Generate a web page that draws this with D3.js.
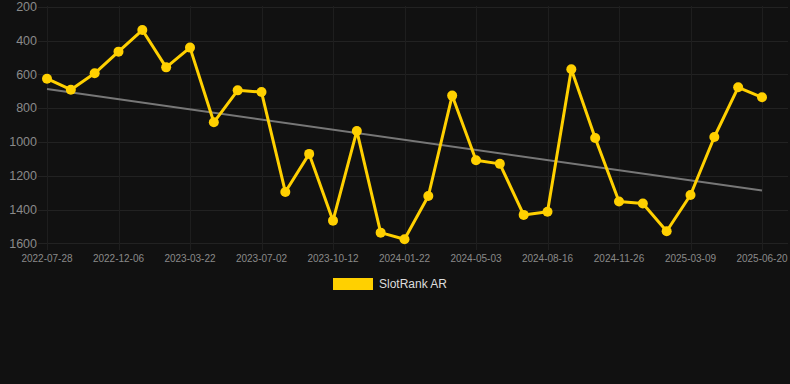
<!DOCTYPE html>
<html><head><meta charset="utf-8">
<script src="https://cdn.jsdelivr.net/npm/d3@7"></script>
<style>
html,body{margin:0;padding:0;background:#111111;}
svg{display:block;}
</style></head>
<body>
<svg id="c" width="790" height="384"></svg>
<script>
const categories = [
"2022-07-28","2022-08-31","2022-10-04","2022-12-06","2023-01-09","2023-02-14","2023-03-22","2023-04-24","2023-05-28","2023-07-02",
"2023-08-04","2023-09-07","2023-10-12","2023-11-14","2023-12-18","2024-01-22","2024-02-24","2024-03-29","2024-05-03","2024-06-06",
"2024-07-11","2024-08-16","2024-09-18","2024-10-22","2024-11-26","2024-12-29","2025-02-02","2025-03-09","2025-04-11","2025-05-15",
"2025-06-20"];
const rankValues = [626,691,594,466,338,559,442,884,695,705,
1296,1071,1466,935,1537,1576,1320,726,1109,1130,
1432,1413,570,977,1353,1365,1529,1314,971,677,736];
const trendValues = [687,1288];
const yTicks = [200,400,600,800,1000,1200,1400,1600];
const xTickLabels = ["2022-07-28","2022-12-06","2023-03-22","2023-07-02","2023-10-12","2024-01-22","2024-05-03","2024-08-16","2024-11-26","2025-03-09","2025-06-20"];
const seriesName = "SlotRank AR";

const svg = d3.select("#c");
const x = d3.scalePoint().domain(categories).range([47, 762]);
const y = d3.scaleLinear().domain([200,1600]).range([6.7, 243.3]);

// grid
const grid = svg.append("g");
grid.selectAll("line.h").data(yTicks).join("line")
  .attr("x1",38).attr("x2",788)
  .attr("y1",d=>Math.round(y(d))+0.5).attr("y2",d=>Math.round(y(d))+0.5)
  .attr("stroke","#222").attr("stroke-width",1);
grid.selectAll("line.v").data(xTickLabels).join("line")
  .attr("x1",d=>Math.round(x(d))+0.5).attr("x2",d=>Math.round(x(d))+0.5)
  .attr("y1",6).attr("y2",250)
  .attr("stroke","#1e1e1e").attr("stroke-width",1);

// y labels
svg.append("g").selectAll("text").data(yTicks).join("text")
  .attr("x",37).attr("y",d=>y(d)).attr("dy","0.35em")
  .attr("text-anchor","end")
  .attr("font-family","Helvetica, Arial, 'Liberation Sans', sans-serif")
  .attr("font-size",12.5).attr("fill","#8a8a8a")
  .text(d=>d);

// x labels
svg.append("g").selectAll("text").data(xTickLabels).join("text")
  .attr("x",d=>x(d)).attr("y",262)
  .attr("text-anchor","middle")
  .attr("font-family","Helvetica, Arial, 'Liberation Sans', sans-serif")
  .attr("font-size",10).attr("fill","#8a8a8a")
  .text(d=>d);

// trend line
const n = rankValues.length;
svg.append("line")
  .attr("x1",x(categories[0])).attr("y1",y(trendValues[0]))
  .attr("x2",x(categories[n-1])).attr("y2",y(trendValues[1]))
  .attr("stroke","#777").attr("stroke-width",2);

const gold = "#FFD000";
const line = d3.line().x((d,i)=>x(categories[i])).y(d=>y(d));
svg.append("path").datum(rankValues).attr("d",line)
  .attr("fill","none").attr("stroke",gold).attr("stroke-width",3).attr("stroke-linejoin","round");
svg.append("g").selectAll("circle").data(rankValues).join("circle")
  .attr("cx",(d,i)=>x(categories[i])).attr("cy",d=>y(d)).attr("r",5)
  .attr("fill",gold);

// legend
const lg = svg.append("g");
lg.append("rect").attr("x",333).attr("y",278).attr("width",40).attr("height",12).attr("fill",gold);
lg.append("text").attr("x",379).attr("y",284).attr("dy","0.35em")
  .attr("font-family","Helvetica, Arial, 'Liberation Sans', sans-serif")
  .attr("font-size",12).attr("fill","#dddddd").text(seriesName);
</script>
</body></html>
